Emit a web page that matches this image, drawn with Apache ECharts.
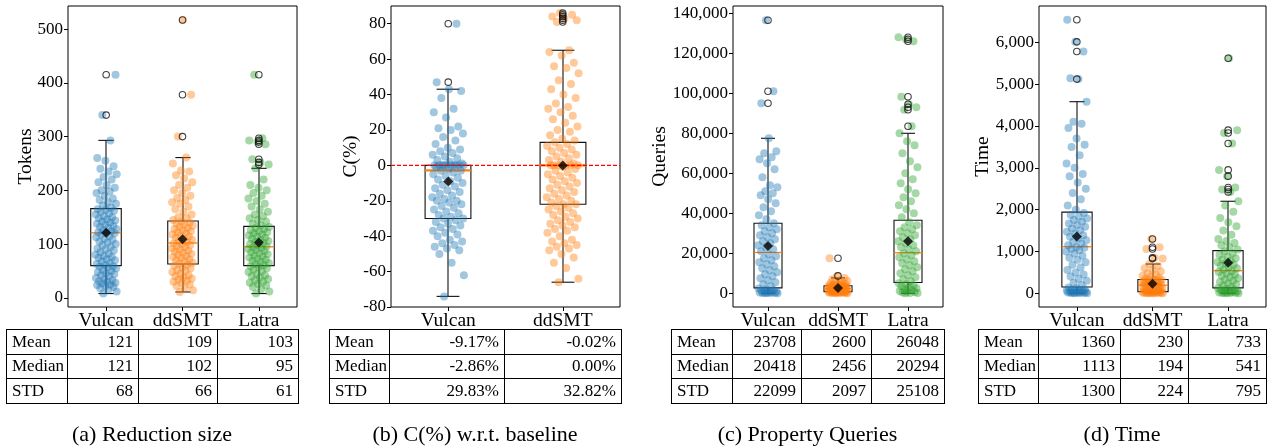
<!DOCTYPE html>
<html>
<head>
<meta charset="utf-8">
<script src="https://cdn.jsdelivr.net/npm/echarts@6/dist/echarts.min.js"></script>
<style>
html, body { margin: 0; padding: 0; background: #fff; }
#main { width: 1267px; height: 446px; }
</style>
</head>
<body>
<div id="main"></div>
<script>
// tools compared in each panel
var toolsA = ['Vulcan', 'ddSMT', 'Latra'];
var toolsB = ['Vulcan', 'ddSMT'];

// box stats: [whisker low, Q1, median, Q3, whisker high]
var boxA = [[8, 60, 121, 166, 293], [11, 63, 102, 143, 261], [8, 60, 95, 133, 241]];
var meanA = [121, 109, 103];
var outA = [[340, 415], [300, 378, 517], [248, 252, 258, 286, 290, 293, 297, 415]];
var ptsA = [
    [8, 12, 15, 18, 20, 22, 24, 25, 27, 28, 30, 31, 33, 35, 37, 40, 42, 44, 46, 48, 50, 52, 55, 57, 58, 59,
     61, 63, 65, 68, 70, 72, 74, 76, 78, 80, 82, 85, 88, 90, 92, 95, 98, 100, 103, 105, 108, 110, 113, 115, 118, 120, 121,
     122, 124, 126, 128, 130, 132, 134, 136, 138, 140, 142, 144, 146, 148, 150, 152, 155, 157, 160, 162, 164, 165,
     168, 172, 175, 178, 182, 185, 190, 195, 198, 200, 205, 210, 215, 220, 225, 230, 235, 240, 245, 255, 260, 293, 340, 415],
    [11, 14, 18, 22, 25, 28, 30, 32, 34, 36, 38, 40, 42, 45, 48, 50, 52, 55, 57, 60, 62,
     64, 66, 68, 70, 72, 74, 76, 78, 80, 82, 84, 86, 88, 90, 92, 94, 96, 98, 100, 101,
     104, 106, 108, 110, 112, 114, 116, 118, 120, 122, 124, 126, 128, 130, 132, 134, 136, 138, 140, 142,
     145, 148, 150, 155, 160, 165, 170, 175, 178, 182, 186, 190, 195, 200, 205, 210, 215, 222, 228, 235, 237, 250, 261, 300, 378, 517],
    [8, 12, 16, 20, 23, 26, 28, 30, 33, 35, 38, 40, 42, 45, 48, 50, 53, 55, 58, 59,
     61, 63, 65, 67, 69, 71, 73, 75, 77, 79, 81, 83, 85, 87, 89, 91, 93, 94,
     96, 98, 100, 102, 104, 106, 108, 110, 112, 114, 116, 118, 120, 122, 124, 126, 128, 130, 132,
     135, 138, 142, 145, 148, 152, 155, 160, 165, 170, 175, 180, 185, 190, 195, 200, 205, 210, 220, 241,
     248, 252, 258, 286, 290, 293, 297, 415]
];

var boxB = [[-74, -30, -2.86, 0, 43], [-66, -22, 0, 13, 65]];
var meanB = [-9.17, -0.02];
var outB = [[47, 80], [81, 82, 83, 84, 85, 86]];
var baselineB = 0;
var ptsB = [
    [-74, -62, -55, -50, -48, -47, -46, -45, -44, -43, -42, -40, -39, -38, -37, -36, -35, -34, -33, -32, -31, -30, -30,
     -29, -28, -27, -26, -25, -24, -23, -22, -21, -20, -20, -19, -18, -17, -16, -15, -14, -13, -12, -11, -10, -9, -8,
     -7, -6, -5, -4, -3, -3, -2, -1, 0, 0, 0, 0, 0, 0, 0, 0, 0, 0,
     1, 2, 3, 4, 5, 6, 7, 8, 9, 10, 12, 14, 16, 18, 20, 21, 22, 27, 30, 32, 38, 42, 43, 47, 80],
    [-66, -64, -58, -55, -52, -50, -48, -47, -46, -45, -44, -43, -42, -40, -38, -37, -36, -35, -34, -33, -32, -31,
     -30, -29, -28, -27, -26, -25, -24, -23, -22, -22, -21, -20, -19, -18, -17, -16, -15, -14, -13, -12, -11, -10,
     -9, -8, -7, -6, -5, -4, -3, -2, -1, 0, 0, 0, 0, 0, 0, 1, 2, 3, 4, 5, 6, 7, 8, 9, 10, 11, 12, 13,
     14, 15, 17, 19, 20, 22, 24, 26, 28, 30, 32, 33, 35, 38, 40, 43, 46, 48, 52, 55, 56, 58, 62, 64, 65,
     81, 82, 83, 84, 85, 86]
];

var boxC = [[0, 2700, 20418, 35000, 77500], [0, 800, 2456, 3800, 7700], [0, 5400, 20294, 36500, 80000]];
var meanC = [23708, 2600, 26048];
var outC = [[95000, 101000, 136500], [8700, 17500], [83500, 91800, 93000, 94500, 98300, 126000, 127000, 128000]];
var ptsC = [
    [0, 50, 100, 150, 200, 300, 400, 500, 600, 800, 1000, 1300, 1600, 2000, 2400,
     3500, 4500, 5500, 6500, 7500, 8500, 9500, 10500, 11500, 12500, 13500, 14500, 15500, 16500, 17500, 18500, 19500,
     21000, 22000, 23000, 24000, 25000, 26000, 27000, 28000, 29000, 30000, 31000, 32000, 33000, 34000, 35000,
     37000, 39000, 41000, 43000, 45000, 47000, 49000, 50000, 51000, 53000, 54000, 58000, 62000, 65000, 67000,
     68000, 70000, 71000, 77500, 95000, 101000, 136500],
    [0, 50, 100, 150, 200, 250, 300, 350, 400, 450, 500, 550, 600, 650, 700, 750,
     850, 950, 1050, 1150, 1250, 1350, 1450, 1550, 1650, 1750, 1850, 1950, 2050, 2150, 2250, 2350,
     2500, 2580, 2660, 2740, 2820, 2900, 2980, 3060, 3140, 3220, 3300, 3380, 3460, 3540, 3620, 3700,
     3900, 4100, 4300, 4500, 4800, 5100, 5400, 5800, 6200, 6600, 7000, 7700, 8700, 17500],
    [0, 100, 200, 400, 600, 900, 1200, 1600, 2000, 2500, 3000, 3500, 4000, 4500, 5000,
     6000, 7000, 8000, 9000, 10000, 11000, 12000, 13000, 14000, 15000, 16000, 17000, 18000, 19000, 20000,
     21000, 22000, 23000, 24000, 25000, 26000, 27000, 28000, 29000, 30000, 31000, 32000, 33000, 34000, 35500,
     38000, 40000, 42000, 44000, 46000, 48000, 50000, 52000, 55000, 57000, 60000, 63000, 66000, 70000, 74000,
     76000, 80000, 83500, 91800, 93000, 94500, 98300, 126000, 127000, 128000]
];

var boxD = [[0, 150, 1113, 1940, 4580], [0, 40, 194, 330, 700], [0, 130, 541, 1020, 2200]];
var meanD = [1360, 230, 733];
var outD = [[5120, 5780, 6010, 6540], [830, 850, 1060, 1100, 1300], [2420, 2480, 2530, 2800, 2950, 3580, 3830, 3900, 5620]];
var ptsD = [
    [0, 0, 5, 10, 10, 15, 20, 20, 25, 30, 35, 40, 50, 60, 70, 80, 90, 100, 120, 140,
     200, 250, 300, 350, 400, 450, 500, 560, 620, 680, 740, 800, 850, 900, 950, 1000, 1030, 1060, 1090, 1110,
     1150, 1190, 1230, 1270, 1310, 1350, 1390, 1430, 1470, 1510, 1550, 1590, 1630, 1670, 1710, 1750, 1790, 1830, 1870, 1920,
     2000, 2100, 2250, 2400, 2500, 2650, 2800, 2850, 3000, 3100, 3300, 3500, 3550, 3700, 3950, 4050, 4100, 4580,
     5120, 5140, 5780, 6010, 6540],
    [0, 1, 2, 4, 6, 8, 10, 12, 15, 18, 22, 26, 30, 35, 38,
     45, 55, 65, 75, 85, 95, 105, 115, 125, 135, 145, 155, 165, 180, 190,
     200, 210, 220, 230, 240, 250, 260, 270, 280, 290, 300, 310, 320, 325, 330,
     350, 370, 390, 420, 450, 480, 520, 560, 600, 650, 700, 830, 850, 1060, 1100, 1300],
    [0, 2, 5, 8, 12, 16, 20, 30, 40, 50, 60, 75, 90, 105, 120,
     150, 180, 210, 240, 270, 300, 330, 360, 390, 420, 450, 480, 510, 530,
     570, 600, 630, 660, 690, 720, 750, 780, 810, 840, 880, 920, 960, 1000,
     1050, 1100, 1150, 1200, 1250, 1300, 1400, 1500, 1600, 1700, 1800, 1950, 2100, 2200,
     2420, 2480, 2530, 2800, 2950, 3580, 3830, 3900, 5620]
];

// y tick labels
var ticksA = [0, 100, 200, 300, 400, 500];
var ticksB = [-80, -60, -40, -20, 0, 20, 40, 60, 80];
var ticksC = [0, 20000, 40000, 60000, 80000, 100000, 120000, 140000];
var ticksD = [0, 1000, 2000, 3000, 4000, 5000, 6000];

// summary tables under the plots
var rowNames = ['Mean', 'Median', 'STD'];
var tableA = [['121', '109', '103'], ['121', '102', '95'], ['68', '66', '61']];
var tableB = [['-9.17%', '-0.02%'], ['-2.86%', '0.00%'], ['29.83%', '32.82%']];
var tableC = [['23708', '2600', '26048'], ['20418', '2456', '20294'], ['22099', '2097', '25108']];
var tableD = [['1360', '230', '733'], ['1113', '194', '541'], ['1300', '224', '795']];

var colors = ['#1f77b4', '#ff7f0e', '#2ca02c'];
var FONT = 'Liberation Serif';

var panels = [
    { cats: toolsA, box: boxA, mean: meanA, out: outA, pts: ptsA, ticks: ticksA, name: 'Tokens', table: tableA, caption: '(a) Reduction size' },
    { cats: toolsB, box: boxB, mean: meanB, out: outB, pts: ptsB, ticks: ticksB, name: 'C(%)', table: tableB, caption: '(b) C(%) w.r.t. baseline', baseline: baselineB },
    { cats: toolsA, box: boxC, mean: meanC, out: outC, pts: ptsC, ticks: ticksC, name: 'Queries', table: tableC, caption: '(c) Property Queries' },
    { cats: toolsA, box: boxD, mean: meanD, out: outD, pts: ptsD, ticks: ticksD, name: 'Time', table: tableD, caption: '(d) Time' }
];

// layout of each panel (pixels)
var layout = [
    { left: 68, width: 229, ymin: -17, ymax: 543, gap: 32, cols: [6, 67, 138, 217, 298], medW: 1.3 },
    { left: 391, width: 229, ymin: -80, ymax: 90, gap: 30, cols: [329, 389, 504, 621], medW: 2.2 },
    { left: 733, width: 210, ymin: -6840, ymax: 143640, gap: 63, cols: [671, 732, 801, 871, 944], medW: 1.3 },
    { left: 1039, width: 227, ymin: -327, ymax: 6867, gap: 46, cols: [978, 1038, 1120, 1188, 1266], medW: 1.3 }
];
var TOP = 6, HEIGHT = 301;
var tableRows = [329, 354, 378, 403];

// spread of the strip points around each box
function jit(j) {
    return (((j * 0.618034 + 0.37) % 1) - 0.5) * 0.28;
}

function makeRenderBox(medW) {
    return function (params, api) {
        var k = api.value(0);
        var pLo = api.coord([k, api.value(1)]);
        var pQ1 = api.coord([k, api.value(2)]);
        var pMd = api.coord([k, api.value(3)]);
        var pQ3 = api.coord([k, api.value(4)]);
        var pHi = api.coord([k, api.value(5)]);
        var w = api.size([0.4, 0])[0];
        var cx = Math.round(pMd[0]);
        var ls = { stroke: '#111', lineWidth: 1.1, fill: null };
        return {
            type: 'group',
            children: [
                { type: 'line', shape: { x1: cx, y1: pQ1[1], x2: cx, y2: pLo[1] }, style: ls },
                { type: 'line', shape: { x1: cx, y1: pQ3[1], x2: cx, y2: pHi[1] }, style: ls },
                { type: 'line', shape: { x1: cx - w / 4, y1: pLo[1], x2: cx + w / 4, y2: pLo[1] }, style: ls },
                { type: 'line', shape: { x1: cx - w / 4, y1: pHi[1], x2: cx + w / 4, y2: pHi[1] }, style: ls },
                { type: 'rect', shape: { x: cx - w / 2, y: pQ3[1], width: w, height: pQ1[1] - pQ3[1] },
                  style: { stroke: '#111', lineWidth: 1.1, fill: 'none' } },
                { type: 'line', shape: { x1: cx - w / 2, y1: pMd[1], x2: cx + w / 2, y2: pMd[1] },
                  style: { stroke: '#ff7f0e', lineWidth: medW } }
            ]
        };
    };
}

var grids = [], xAxes = [], yAxes = [], series = [], graphics = [];

panels.forEach(function (p, i) {
    var L = layout[i];
    var xMin = 0.5, xMax = p.cats.length + 0.5;
    grids.push({
        left: L.left, top: TOP, width: L.width, height: HEIGHT,
        show: true, borderColor: '#000', borderWidth: 1, backgroundColor: 'transparent'
    });
    // visible category axis for labels and ticks
    xAxes.push({
        type: 'category', gridIndex: i, data: p.cats, boundaryGap: true,
        axisLine: { show: false, onZero: false },
        axisTick: { show: true, alignWithLabel: true, length: 4, interval: 0, lineStyle: { color: '#000' } },
        axisLabel: { color: '#000', fontSize: 19.5, fontFamily: FONT, margin: 4, interval: 0 },
        splitLine: { show: false }
    });
    // hidden value axis that places boxes and points
    xAxes.push({
        type: 'value', gridIndex: i, min: xMin, max: xMax, show: false,
        axisLine: { show: false, onZero: false }, splitLine: { show: false }
    });
    yAxes.push({
        type: 'value', gridIndex: i, min: L.ymin, max: L.ymax,
        name: p.name, nameLocation: 'middle', nameRotate: 90, nameGap: L.gap, nameMoveOverlap: false,
        nameTextStyle: { color: '#000', fontSize: 19.5, fontFamily: FONT },
        axisLine: { show: false, onZero: false },
        axisTick: { show: true, length: 4, customValues: p.ticks, lineStyle: { color: '#000' } },
        axisLabel: {
            color: '#000', fontSize: 17, fontFamily: FONT, margin: 5, customValues: p.ticks,
            formatter: function (v) { return Math.abs(v) >= 1000 ? v.toLocaleString('en-US') : String(v); }
        },
        splitLine: { show: false }
    });

    var xi = i * 2 + 1;

    series.push({
        type: 'custom', xAxisIndex: xi, yAxisIndex: i, z: 2, silent: true,
        renderItem: makeRenderBox(L.medW),
        data: p.box.map(function (b, k) { return [k + 1].concat(b); })
    });

    p.pts.forEach(function (vals, k) {
        series.push({
            type: 'scatter', xAxisIndex: xi, yAxisIndex: i, z: 3, silent: true,
            symbolSize: 8,
            itemStyle: { color: colors[k], opacity: 0.42 },
            data: vals.map(function (v, j) { return [k + 1 + jit(j), v]; })
        });
    });

    if (p.baseline !== undefined) {
        // red dashed reference line across the panel
        series.push({
            type: 'line', xAxisIndex: xi, yAxisIndex: i, z: 6, silent: true,
            symbol: 'none', showSymbol: false,
            itemStyle: { color: '#ff0000' },
            lineStyle: { color: '#ff0000', type: [4, 2], width: 1.4, opacity: 1 },
            data: [[xMin, p.baseline], [xMax, p.baseline]]
        });
    }

    var outData = [];
    p.out.forEach(function (vals, k) {
        vals.forEach(function (v) { outData.push([k + 1, v]); });
    });
    series.push({
        type: 'scatter', xAxisIndex: xi, yAxisIndex: i, z: 4, silent: true,
        symbol: 'circle', symbolSize: 6.5,
        itemStyle: { color: 'rgba(0,0,0,0)', borderColor: '#111', borderWidth: 1.1 },
        data: outData
    });

    series.push({
        type: 'scatter', xAxisIndex: xi, yAxisIndex: i, z: 7, silent: true,
        symbol: 'diamond', symbolSize: 10,
        itemStyle: { color: '#000' },
        data: p.mean.map(function (m, k) { return [k + 1, m]; })
    });

    // table lines
    var cols = L.cols;
    var x0 = cols[0], x1 = cols[cols.length - 1];
    tableRows.forEach(function (y) {
        graphics.push({ type: 'line', silent: true,
            shape: { x1: x0, y1: y + 0.5, x2: x1 + 1, y2: y + 0.5 },
            style: { stroke: '#000', lineWidth: 1 } });
    });
    cols.forEach(function (x) {
        graphics.push({ type: 'line', silent: true,
            shape: { x1: x + 0.5, y1: tableRows[0], x2: x + 0.5, y2: tableRows[3] + 1 },
            style: { stroke: '#000', lineWidth: 1 } });
    });
    // table text
    p.table.forEach(function (row, r) {
        var ym = (tableRows[r] + tableRows[r + 1]) / 2 + 1;
        graphics.push({ type: 'text', silent: true, x: x0 + 6, y: ym,
            style: { text: rowNames[r], fill: '#000', fontSize: 17, fontFamily: FONT,
                     align: 'left', verticalAlign: 'middle', textAlign: 'left', textVerticalAlign: 'middle' } });
        row.forEach(function (cell, c) {
            graphics.push({ type: 'text', silent: true, x: cols[c + 2] - 5, y: ym,
                style: { text: cell, fill: '#000', fontSize: 17, fontFamily: FONT,
                         align: 'right', verticalAlign: 'middle', textAlign: 'right', textVerticalAlign: 'middle' } });
        });
    });
    // caption
    graphics.push({ type: 'text', silent: true, x: (x0 + x1) / 2, y: 435,
        style: { text: p.caption, fill: '#000', fontSize: 22, fontFamily: FONT,
                 align: 'center', verticalAlign: 'middle', textAlign: 'center', textVerticalAlign: 'middle' } });
});

var chart = echarts.init(document.getElementById('main'));
chart.setOption({
    animation: false,
    backgroundColor: '#fff',
    grid: grids,
    xAxis: xAxes,
    yAxis: yAxes,
    series: series,
    graphic: graphics
});
</script>
</body>
</html>
